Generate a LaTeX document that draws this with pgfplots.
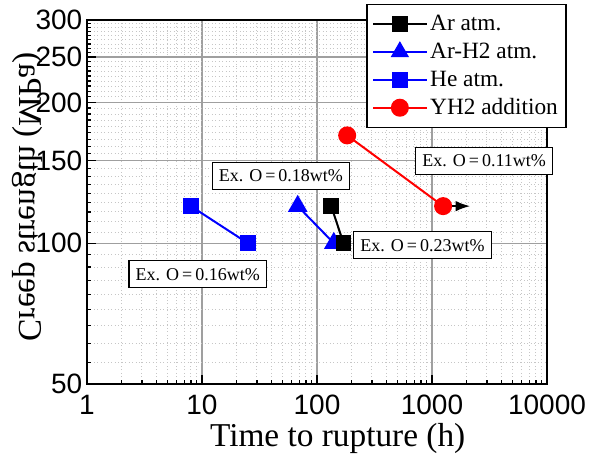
\documentclass[border=0pt]{standalone}
\usepackage{fontspec}
\setmainfont{Liberation Serif}
\newfontfamily\arial{Liberation Sans}
\usepackage{pgfplots}
\pgfplotsset{compat=1.18}
\usetikzlibrary{arrows.meta}

\begin{document}
\begin{tikzpicture}
\path[use as bounding box] (-65.25pt,-52.5pt) rectangle (380.25pt,288pt);
\begin{axis}[
  scale only axis, width=345pt, height=273pt,
  xmode=log, ymode=log,
  xmin=1, xmax=10000, ymin=50, ymax=300,
  xtick={1,10,100,1000,10000}, xticklabels={1,10,100,1000,10000},
  ytick={50,100,150,200,250,300}, yticklabels={50,100,150,200,250,300},
  minor xtick={2,3,4,5,6,7,8,9,20,30,40,50,60,70,80,90,200,300,400,500,600,700,800,900,2000,3000,4000,5000,6000,7000,8000,9000},
  minor ytick={55.556,61.111,66.667,72.222,77.778,83.333,88.889,94.444,
    105.556,111.111,116.667,122.222,127.778,133.333,138.889,144.444,
    155.556,161.111,166.667,172.222,177.778,183.333,188.889,194.444,
    205.556,211.111,216.667,222.222,227.778,233.333,238.889,244.444,
    255.556,261.111,266.667,272.222,277.778,283.333,288.889,294.444},
  tick pos=left, tick align=inside,
  major tick length=7pt, minor tick length=3pt,
  tick style={black, line width=1pt},
  grid=both,
  major grid style={draw=gray!75, line width=0.8pt, solid},
  minor grid style={draw=gray!45, line width=0.6pt, dotted},
  axis line style={line width=1.3pt},
  ticklabel style={font=\arial\fontsize{21}{21}\selectfont},
  xticklabel style={yshift=-5pt},
  /pgf/number format/assume math mode=true,
  xlabel={Time to rupture (h)}, ylabel={Creep strength (MPa)},
  label style={font=\fontsize{25}{25}\selectfont},
  xlabel style={at={(axis description cs:0.545,0)}, anchor=center, yshift=-41pt},
  ylabel style={at={(axis description cs:-0.13,0.514)}, anchor=center, yscale=-1},
  clip=false,
  legend style={at={(axis description cs:0.607,1.044)}, anchor=north west,
    draw=black, line width=1pt, fill=white,
    font=\fontsize{17.5}{19}\selectfont, row sep=3.8pt,
    inner xsep=4pt, inner ysep=6pt, cells={anchor=west}},
  legend image code/.code={\draw[mark repeat=2,mark phase=2] plot coordinates {(0pt,0pt) (20pt,0pt) (40pt,0pt)};},
]
% legend in the original order
\addlegendimage{black, line width=1.5pt, mark=square*, mark size=5.2pt}
\addlegendentry{Ar atm.}
\addlegendimage{blue, line width=1.5pt, mark=triangle*, mark size=6.5pt}
\addlegendentry{Ar-H2 atm.}
\addlegendimage{blue, line width=1.5pt, mark=square*, mark size=5.2pt}
\addlegendentry{He atm.}
\addlegendimage{red, line width=1.5pt, mark=*, mark size=6pt}
\addlegendentry{YH2 addition}

% data (black drawn after blue triangles so it sits on top)
\addplot[forget plot, blue, line width=1.5pt, mark=square*, mark size=5.2pt] coordinates {(8,120) (25,100)};
\addplot[forget plot, blue, line width=1.5pt, mark=triangle*, mark size=7pt] coordinates {(68,120) (140,100)};
\addplot[forget plot, black, line width=1.5pt, mark=square*, mark size=5.2pt] coordinates {(133,120) (170,100)};
\addplot[forget plot, red, line width=1.5pt, mark=*, mark size=6pt] coordinates {(183,170) (1250,120)};
\addplot[forget plot, black, line width=1.5pt, -{Latex[length=11pt,width=8pt]}] coordinates {(1250,120) (2150,120)};

\tikzset{exbox/.style={draw=black, line width=0.8pt, fill=white, font=\fontsize{13.5}{15}\selectfont, inner xsep=5pt, inner ysep=5.5pt}}
\node[exbox] at (axis cs:48.5,139.4) {Ex. O\,=\,0.18wt\%};
\node[exbox] at (axis cs:828,99) {Ex. O\,=\,0.23wt\%};
\node[exbox] at (axis cs:9.18,85.8) {Ex. O\,=\,0.16wt\%};
\node[exbox] at (axis cs:2845,150.1) {Ex. O\,=\,0.11wt\%};
\end{axis}
\end{tikzpicture}
\end{document}
